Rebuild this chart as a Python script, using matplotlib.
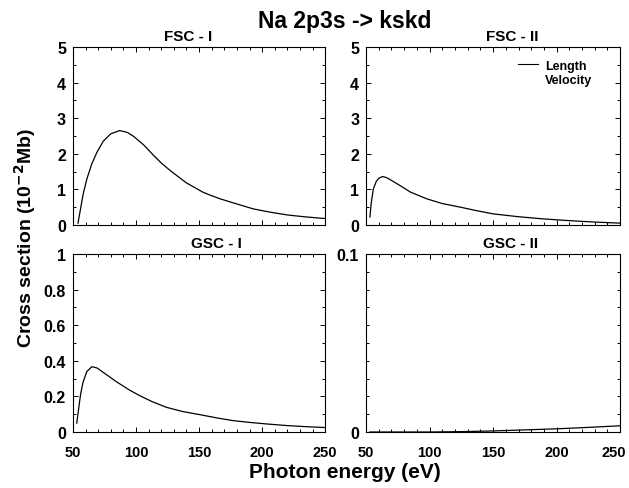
import numpy as np
import matplotlib
matplotlib.use("Agg")
import matplotlib.pyplot as plt
import matplotlib.transforms as mtransforms
from matplotlib.lines import Line2D
from matplotlib.ticker import MultipleLocator

plt.rcParams['font.family'] = ['Liberation Sans', 'DejaVu Sans']
plt.rcParams['font.weight'] = 'bold'
plt.rcParams['mathtext.default'] = 'bf'

# Data (photon energy eV, cross section 10^-2 Mb)
fsc1_x = [54, 56, 58, 61, 65, 69, 74, 80, 87, 93, 98, 106, 114, 120, 127, 134, 140, 147, 153, 160, 167, 177, 193, 206, 220, 233, 246, 250]
fsc1_y = [0.05, 0.45, 0.85, 1.29, 1.72, 2.04, 2.35, 2.56, 2.65, 2.60, 2.49, 2.25, 1.95, 1.74, 1.53, 1.34, 1.18, 1.04, 0.92, 0.82, 0.73, 0.62, 0.45, 0.36, 0.28, 0.23, 0.19, 0.18]

fsc2_x = [53, 54, 55.7, 58, 60, 63, 66, 70, 77, 85, 98, 110, 124, 137, 150, 170, 189, 210, 230, 250]
fsc2_y = [0.22, 0.60, 1.01, 1.22, 1.31, 1.36, 1.33, 1.25, 1.10, 0.92, 0.73, 0.60, 0.50, 0.40, 0.31, 0.23, 0.17, 0.12, 0.08, 0.05]

gsc1_x = [53, 54.5, 56, 58, 61, 65, 69, 75, 85, 95, 103, 113, 124, 137, 151, 165, 177, 190, 204, 220, 235, 250]
gsc1_y = [0.05, 0.13, 0.21, 0.28, 0.34, 0.367, 0.36, 0.33, 0.28, 0.235, 0.204, 0.17, 0.139, 0.115, 0.097, 0.078, 0.064, 0.054, 0.045, 0.036, 0.030, 0.025]

gsc2_x = [53, 75, 100, 125, 150, 175, 200, 225, 250]
gsc2_y = [0.0, 0.0, 0.0, 0.0002, 0.0006, 0.0012, 0.0018, 0.0026, 0.0035]

x_ticks = [50, 100, 150, 200, 250]
x_labels = ["50", "100", "150", "200", "250"]

panels = [
    ("FSC - I", fsc1_x, fsc1_y, 5, 1, 0.5, ["0", "1", "2", "3", "4", "5"], 0.455),
    ("FSC - II", fsc2_x, fsc2_y, 5, 1, 0.5, ["0", "1", "2", "3", "4", "5"], 0.575),
    ("GSC - I", gsc1_x, gsc1_y, 1, 0.2, 0.1, ["0", "0.2", "0.4", "0.6", "0.8", "1"], 0.567),
    ("GSC - II", gsc2_x, gsc2_y, 0.1, 0.1, 0.01, ["0", "0.1"], 0.567),
]

fig = plt.figure(figsize=(6.29, 4.89), dpi=100)
positions = [
    [0.116, 0.538, 0.401, 0.364],
    [0.582, 0.538, 0.404, 0.364],
    [0.116, 0.1145, 0.401, 0.364],
    [0.582, 0.1145, 0.404, 0.364],
]

for i, (title, xs, ys, ymax, major, minor, labels, tx) in enumerate(panels):
    ax = fig.add_axes(positions[i])
    ax.plot(xs, ys, color='black', lw=0.9)
    ax.set_xlim(50, 250)
    ax.set_ylim(0, ymax)
    ax.xaxis.set_minor_locator(MultipleLocator(10))
    ax.yaxis.set_minor_locator(MultipleLocator(minor))
    ax.set_xticks(x_ticks)
    ax.set_yticks(np.arange(len(labels)) * major)
    ax.set_yticklabels(labels)
    ax.tick_params(which='both', direction='in', top=True, right=True, width=0.7)
    ax.tick_params(which='major', length=3.5)
    ax.tick_params(which='minor', length=2)
    ax.tick_params(axis='y', labelsize=11.5, pad=5)
    ax.tick_params(axis='x', labelsize=10.5, pad=9)
    for s in ax.spines.values():
        s.set_linewidth(0.8)
    if i < 2:
        ax.set_xticklabels([])
    else:
        ax.set_xticklabels(x_labels)
    for lab in ax.get_xticklabels() + ax.get_yticklabels():
        lab.set_fontweight('bold')
    if i == 3:
        last = ax.get_xticklabels()[-1]
        last.set_transform(last.get_transform() +
                           mtransforms.ScaledTranslation(-6 / 100, 0, fig.dpi_scale_trans))
    ax.text(tx, 1.02, title, transform=ax.transAxes, ha='center', va='bottom',
            fontsize=11, fontweight='bold')
    if i == 1:
        handles = [Line2D([], [], color='black', lw=0.8),
                   Line2D([], [], color='none', lw=0.8)]
        fig.legend(handles, ["Length", "Velocity"], loc='upper left',
                   bbox_to_anchor=(0.8235, 0.876), bbox_transform=fig.transFigure,
                   frameon=False, prop={'weight': 'bold', 'size': 9},
                   handlelength=1.6, handletextpad=0.55, labelspacing=0.2,
                   borderpad=0, borderaxespad=0)

fig.text(0.548, 0.956, "Na 2p3s -> kskd", ha='center', va='center', fontsize=16.5, fontweight='bold')
fig.text(0.04, 0.513, "Cross section (10$^{-2}$Mb)", rotation=90, ha='center', va='center',
         fontsize=14, fontweight='bold')
fig.text(0.548, 0.034, "Photon energy (eV)", ha='center', va='center', fontsize=15, fontweight='bold')

fig.savefig("out.png", dpi=100)
